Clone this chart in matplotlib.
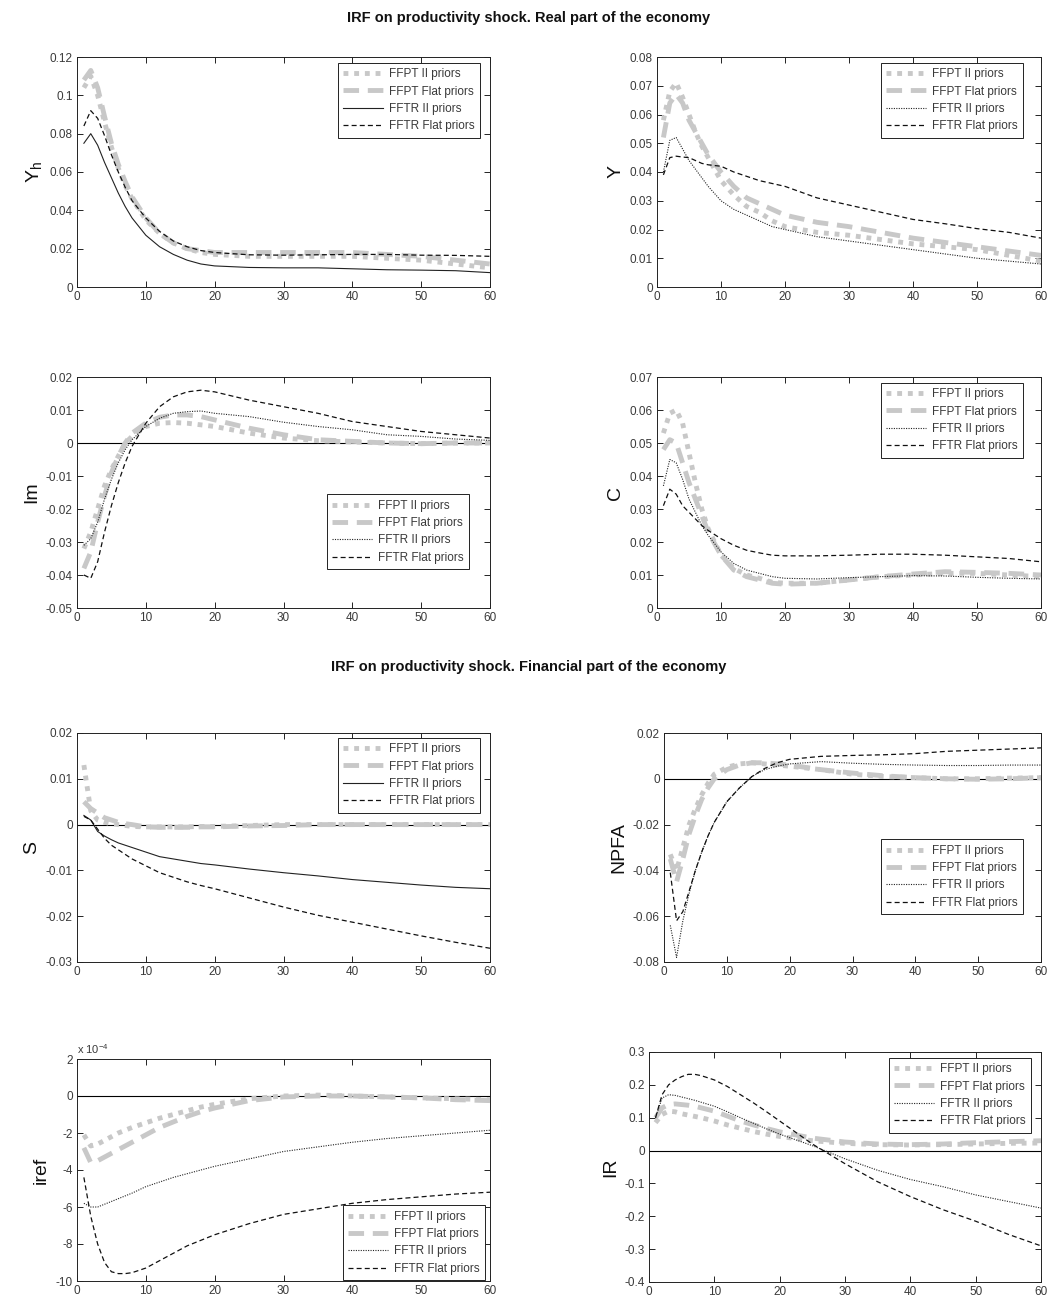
import matplotlib
matplotlib.use('Agg')
import matplotlib.pyplot as plt

plt.rcParams['font.family'] = ['Liberation Sans', 'DejaVu Sans']
plt.rcParams['mathtext.fontset'] = 'custom'
plt.rcParams['mathtext.rm'] = 'Liberation Sans'
plt.rcParams['mathtext.it'] = 'Liberation Sans'

# horizon points
x = [1, 2, 3, 4, 5, 6, 7, 8, 10, 12, 14, 16, 18, 20, 25, 30, 35, 40, 45, 50, 55, 60]
labels = ['FFPT II priors', 'FFPT Flat priors', 'FFTR II priors', 'FFTR Flat priors']

# Yh
yh_pt_ii = [0.104, 0.110, 0.100, 0.086, 0.073, 0.062, 0.053, 0.046, 0.035, 0.028, 0.023, 0.020, 0.018, 0.017, 0.016, 0.016, 0.016, 0.016, 0.015, 0.014, 0.012, 0.010]
yh_pt_flat = [0.108, 0.113, 0.104, 0.089, 0.075, 0.064, 0.055, 0.047, 0.036, 0.028, 0.023, 0.020, 0.019, 0.018, 0.018, 0.018, 0.018, 0.018, 0.017, 0.016, 0.014, 0.012]
yh_tr_ii = [0.075, 0.080, 0.074, 0.065, 0.057, 0.049, 0.042, 0.036, 0.027, 0.021, 0.017, 0.014, 0.012, 0.011, 0.0102, 0.010, 0.010, 0.0095, 0.009, 0.0088, 0.0085, 0.0075]
yh_tr_flat = [0.084, 0.092, 0.088, 0.079, 0.069, 0.060, 0.052, 0.045, 0.036, 0.029, 0.024, 0.021, 0.019, 0.018, 0.0168, 0.0166, 0.0168, 0.017, 0.017, 0.0166, 0.0165, 0.016]

# Y
y_pt_ii = [0.058, 0.068, 0.071, 0.066, 0.060, 0.054, 0.049, 0.045, 0.037, 0.032, 0.028, 0.026, 0.023, 0.021, 0.019, 0.018, 0.0165, 0.015, 0.014, 0.013, 0.011, 0.009]
y_pt_flat = [0.052, 0.064, 0.067, 0.064, 0.058, 0.054, 0.050, 0.046, 0.040, 0.035, 0.031, 0.029, 0.027, 0.025, 0.0225, 0.021, 0.019, 0.017, 0.0155, 0.014, 0.0125, 0.011]
y_tr_ii = [0.040, 0.051, 0.052, 0.048, 0.044, 0.041, 0.038, 0.035, 0.030, 0.027, 0.025, 0.023, 0.021, 0.020, 0.0175, 0.016, 0.0145, 0.013, 0.0115, 0.010, 0.009, 0.008]
y_tr_flat = [0.039, 0.045, 0.0455, 0.0452, 0.045, 0.044, 0.043, 0.0425, 0.042, 0.040, 0.0385, 0.037, 0.036, 0.035, 0.031, 0.0285, 0.026, 0.0235, 0.022, 0.0203, 0.019, 0.017]

# Im
im_pt_ii = [-0.032, -0.027, -0.020, -0.013, -0.008, -0.004, 0.000, 0.002, 0.005, 0.006, 0.0062, 0.006, 0.0055, 0.005, 0.003, 0.0015, 0.0007, 0.0003, 0.0, -0.0002, 0.0, 0.0]
im_pt_flat = [-0.038, -0.033, -0.024, -0.016, -0.009, -0.004, 0.000, 0.003, 0.006, 0.0078, 0.0085, 0.0085, 0.008, 0.007, 0.0045, 0.0025, 0.001, 0.0005, 0.0, -0.0002, 0.0, 0.0]
im_tr_ii = [-0.031, -0.029, -0.024, -0.017, -0.011, -0.006, -0.002, 0.001, 0.005, 0.0075, 0.009, 0.0095, 0.0097, 0.009, 0.008, 0.0063, 0.005, 0.004, 0.0025, 0.002, 0.0012, 0.0008]
im_tr_flat = [-0.040, -0.041, -0.036, -0.027, -0.019, -0.012, -0.006, -0.001, 0.006, 0.011, 0.014, 0.0155, 0.016, 0.0155, 0.013, 0.011, 0.009, 0.0065, 0.005, 0.0035, 0.0025, 0.0015]

# C
c_pt_ii = [0.053, 0.059, 0.060, 0.056, 0.047, 0.038, 0.030, 0.024, 0.016, 0.012, 0.010, 0.009, 0.0078, 0.0075, 0.0075, 0.0085, 0.0095, 0.0100, 0.0105, 0.0105, 0.0100, 0.0095]
c_pt_flat = [0.048, 0.051, 0.050, 0.044, 0.038, 0.033, 0.028, 0.023, 0.016, 0.0115, 0.0095, 0.0085, 0.0075, 0.0072, 0.0075, 0.0085, 0.0095, 0.0103, 0.011, 0.0108, 0.0105, 0.010]
c_tr_ii = [0.037, 0.045, 0.044, 0.039, 0.033, 0.029, 0.025, 0.022, 0.017, 0.0135, 0.0115, 0.0105, 0.0095, 0.009, 0.0088, 0.0092, 0.0095, 0.0098, 0.0097, 0.0093, 0.009, 0.0088]
c_tr_flat = [0.031, 0.036, 0.0345, 0.031, 0.029, 0.027, 0.025, 0.0235, 0.021, 0.019, 0.0175, 0.0167, 0.016, 0.0158, 0.0158, 0.016, 0.0163, 0.0163, 0.016, 0.0155, 0.015, 0.014]

# S
s_pt_ii = [0.013, 0.003, 0.001, 0.0005, 0.0002, 0.0, -0.0002, -0.0004, -0.0005, -0.0005, -0.0005, -0.0005, -0.0004, -0.0004, -0.0002, 0.0, 0.0, 0.0, 0.0, 0.0, 0.0, 0.0]
s_pt_flat = [0.005, 0.0035, 0.0025, 0.0015, 0.001, 0.0005, 0.0002, 0.0, -0.0005, -0.0006, -0.0006, -0.0006, -0.0005, -0.0005, -0.0003, -0.0002, 0.0, 0.0, 0.0, 0.0, 0.0, 0.0]
s_tr_ii = [0.002, 0.001, -0.0015, -0.0025, -0.0033, -0.004, -0.0045, -0.005, -0.006, -0.007, -0.0075, -0.008, -0.0085, -0.0088, -0.0097, -0.0105, -0.0112, -0.012, -0.0126, -0.0132, -0.0137, -0.014]
s_tr_flat = [0.0018, 0.001, -0.001, -0.003, -0.0045, -0.0055, -0.0065, -0.0075, -0.009, -0.0105, -0.0115, -0.0125, -0.0133, -0.014, -0.016, -0.018, -0.0198, -0.0213, -0.0228, -0.0243, -0.0257, -0.027]

# NPFA
n_pt_ii = [-0.033, -0.040, -0.030, -0.020, -0.013, -0.007, -0.002, 0.002, 0.005, 0.0065, 0.007, 0.0065, 0.006, 0.0055, 0.004, 0.002, 0.001, 0.0005, 0.0, 0.0, 0.0003, 0.0005]
n_pt_flat = [-0.035, -0.045, -0.035, -0.024, -0.016, -0.009, -0.004, 0.0, 0.004, 0.006, 0.007, 0.007, 0.0065, 0.006, 0.004, 0.0025, 0.0013, 0.0005, 0.0, -0.0002, 0.0, 0.0005]
n_tr_ii = [-0.064, -0.078, -0.062, -0.050, -0.040, -0.032, -0.025, -0.019, -0.010, -0.004, 0.001, 0.004, 0.0055, 0.0065, 0.0075, 0.0068, 0.0063, 0.006, 0.0058, 0.0058, 0.006, 0.006]
n_tr_flat = [-0.041, -0.062, -0.058, -0.049, -0.040, -0.032, -0.025, -0.019, -0.010, -0.004, 0.001, 0.0045, 0.007, 0.0085, 0.0098, 0.0102, 0.0105, 0.011, 0.012, 0.0125, 0.013, 0.0135]

# iref (units of 1e-4)
i_pt_ii = [-2.1, -2.7, -2.6, -2.4, -2.2, -2.0, -1.85, -1.7, -1.45, -1.2, -1.0, -0.8, -0.6, -0.45, -0.15, 0.0, 0.05, 0.0, -0.05, -0.1, -0.15, -0.2]
i_pt_flat = [-2.8, -3.6, -3.5, -3.3, -3.1, -2.9, -2.7, -2.5, -2.1, -1.7, -1.4, -1.1, -0.85, -0.65, -0.25, -0.05, 0.0, 0.0, -0.05, -0.1, -0.2, -0.25]
i_tr_ii = [-5.8, -6.0, -6.0, -5.85, -5.7, -5.55, -5.4, -5.25, -4.9, -4.65, -4.4, -4.2, -4.0, -3.8, -3.4, -3.0, -2.75, -2.5, -2.3, -2.15, -2.0, -1.85]
i_tr_flat = [-4.4, -6.5, -8.0, -9.0, -9.5, -9.6, -9.6, -9.55, -9.3, -8.9, -8.5, -8.1, -7.8, -7.5, -6.9, -6.4, -6.1, -5.8, -5.6, -5.45, -5.3, -5.2]

# IR
r_pt_ii = [0.085, 0.11, 0.12, 0.118, 0.112, 0.108, 0.104, 0.1, 0.09, 0.078, 0.068, 0.058, 0.05, 0.043, 0.03, 0.022, 0.018, 0.017, 0.018, 0.02, 0.022, 0.023]
r_pt_flat = [0.1, 0.13, 0.14, 0.142, 0.14, 0.138, 0.135, 0.13, 0.12, 0.105, 0.09, 0.078, 0.067, 0.057, 0.038, 0.026, 0.02, 0.018, 0.02, 0.024, 0.027, 0.03]
r_tr_ii = [0.1, 0.16, 0.17, 0.168, 0.163, 0.158, 0.153, 0.147, 0.135, 0.118, 0.1, 0.083, 0.066, 0.05, 0.015, -0.025, -0.06, -0.088, -0.11, -0.135, -0.155, -0.175]
r_tr_flat = [0.1, 0.17, 0.2, 0.215, 0.225, 0.232, 0.232, 0.228, 0.215, 0.195, 0.17, 0.145, 0.118, 0.09, 0.02, -0.04, -0.095, -0.14, -0.18, -0.215, -0.255, -0.29]

W, H = 1058, 1301
fig = plt.figure(figsize=(W / 100, H / 100), dpi=100)


def rect(l, r, t, b):
    return [l / W, 1 - b / H, (r - l) / W, (b - t) / H]


gray = '#c8c8c8'
txt = '#3a3a3a'


def panel(px, series, ylabel, ylim, yticks, leg_loc, leg_anchor, ii_solid=False, zero=False):
    ax = fig.add_axes(rect(*px))
    if zero:
        ax.axhline(0, color='black', lw=0.8, zorder=1)
    a, b, c, d = series
    ax.plot(x, a, color=gray, ls=(0, (1, 1.2)), lw=3.5, label=labels[0])
    ax.plot(x, b, color=gray, ls=(0, (3.2, 1.8)), lw=3.5, label=labels[1])
    ax.plot(x, c, color='#222222', ls='-' if ii_solid else (0, (1, 1.2)), lw=0.8, label=labels[2])
    ax.plot(x, d, color='#111111', ls=(0, (4, 2.5)), lw=0.9, label=labels[3])
    ax.set_xlim(0, 60)
    ax.set_ylim(*ylim)
    ax.set_xticks([0, 10, 20, 30, 40, 50, 60])
    ax.set_yticks(yticks)
    ax.set_yticklabels(['%g' % v for v in yticks])
    ax.tick_params(direction='in', top=True, right=True, labelsize=8.5,
                   labelcolor=txt, length=4, width=0.6, pad=3)
    for sp in ax.spines.values():
        sp.set_linewidth(0.7)
        sp.set_color('#222222')
    ax.set_ylabel(ylabel, fontsize=14, color='#111111')
    leg = ax.legend(loc=leg_loc, bbox_to_anchor=leg_anchor, borderaxespad=0,
                    fontsize=8.5, handlelength=3.4, labelspacing=0.45,
                    fancybox=False, framealpha=1, edgecolor='#222222',
                    borderpad=0.45, handletextpad=0.5)
    leg.get_frame().set_linewidth(0.7)
    for t in leg.get_texts():
        t.set_color(txt)
    return ax


panel((77, 490, 57, 287), (yh_pt_ii, yh_pt_flat, yh_tr_ii, yh_tr_flat), r'$\mathregular{Y_h}$',
      (0, 0.12), [0, 0.02, 0.04, 0.06, 0.08, 0.1, 0.12],
      'upper right', (1 - 10 / 413, 1 - 6 / 230), ii_solid=True)

panel((657, 1041, 57, 287), (y_pt_ii, y_pt_flat, y_tr_ii, y_tr_flat), 'Y',
      (0, 0.08), [0, 0.01, 0.02, 0.03, 0.04, 0.05, 0.06, 0.07, 0.08],
      'upper right', (1 - 18 / 384, 1 - 6 / 230))

panel((77, 490, 377, 608), (im_pt_ii, im_pt_flat, im_tr_ii, im_tr_flat), 'Im',
      (-0.05, 0.02), [-0.05, -0.04, -0.03, -0.02, -0.01, 0, 0.01, 0.02],
      'lower right', (1 - 21 / 413, 39 / 231), zero=True)

panel((657, 1041, 377, 608), (c_pt_ii, c_pt_flat, c_tr_ii, c_tr_flat), 'C',
      (0, 0.07), [0, 0.01, 0.02, 0.03, 0.04, 0.05, 0.06, 0.07],
      'upper right', (1 - 18 / 384, 1 - 6 / 231))

panel((77, 490, 733, 962), (s_pt_ii, s_pt_flat, s_tr_ii, s_tr_flat), 'S',
      (-0.03, 0.02), [-0.03, -0.02, -0.01, 0, 0.01, 0.02],
      'upper right', (1 - 10 / 413, 1 - 5 / 229), ii_solid=True, zero=True)

panel((664, 1041, 733, 962), (n_pt_ii, n_pt_flat, n_tr_ii, n_tr_flat), 'NPFA',
      (-0.08, 0.02), [-0.08, -0.06, -0.04, -0.02, 0, 0.02],
      'lower right', (1 - 18 / 377, 48 / 229), zero=True)

ax = panel((77, 490, 1059, 1281), (i_pt_ii, i_pt_flat, i_tr_ii, i_tr_flat), 'iref',
           (-10, 2), [-10, -8, -6, -4, -2, 0, 2],
           'lower right', (1 - 5 / 413, 1 / 222), zero=True)
ax.text(0.0, 1.015, r'x 10$^{-4}$', transform=ax.transAxes, fontsize=8,
        color=txt, ha='left', va='bottom')

panel((649, 1041, 1052, 1282), (r_pt_ii, r_pt_flat, r_tr_ii, r_tr_flat), 'IR',
      (-0.4, 0.3), [-0.4, -0.3, -0.2, -0.1, 0, 0.1, 0.2, 0.3],
      'upper right', (1 - 10 / 392, 1 - 6 / 230), zero=True)

fig.text(0.5, 1 - 18 / H, 'IRF on productivity shock. Real part of the economy',
         ha='center', va='center', fontsize=10.5, fontweight='bold', color='#111111')
fig.text(0.5, 1 - 667 / H, 'IRF on productivity shock. Financial part of the economy',
         ha='center', va='center', fontsize=10.5, fontweight='bold', color='#111111')

fig.savefig('out.png', dpi=100)
